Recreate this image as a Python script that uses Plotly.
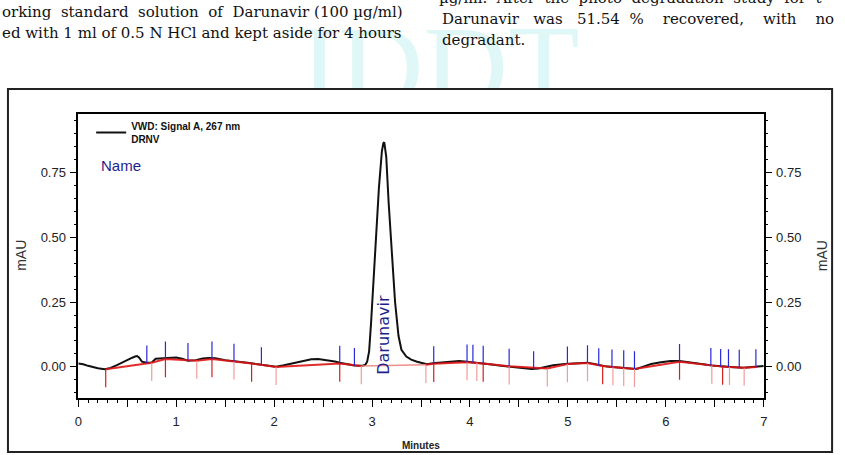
import plotly.graph_objects as go

W, H = 845, 455

# ---------------- data ----------------
# chromatogram signal (minutes, mAU)
sig_t = [0.00, 0.05, 0.10, 0.15, 0.20, 0.27, 0.33, 0.40, 0.47, 0.53, 0.58, 0.60, 0.62, 0.65,
         0.70, 0.75, 0.79, 0.85, 0.92, 1.00, 1.06, 1.12, 1.20, 1.27, 1.33, 1.40, 1.50, 1.60,
         1.68, 1.75, 1.87, 1.95, 2.02, 2.10, 2.18, 2.28, 2.38, 2.45, 2.55, 2.62, 2.67, 2.75,
         2.82, 2.90, 2.93, 2.95, 2.97, 2.99, 3.01, 3.04, 3.07, 3.10, 3.115, 3.125, 3.145,
         3.17, 3.20, 3.235, 3.27, 3.30, 3.35, 3.40, 3.46, 3.56, 3.62, 3.75, 3.89, 3.97, 4.03,
         4.10, 4.20, 4.30, 4.37, 4.45, 4.55, 4.63, 4.70, 4.77, 4.85, 4.97, 5.08, 5.20, 5.27,
         5.34, 5.40, 5.48, 5.57, 5.65, 5.70, 5.77, 5.85, 5.95, 6.05, 6.14, 6.23, 6.32, 6.40,
         6.47, 6.55, 6.66, 6.79, 6.92, 7.00]
sig_v = [0.013, 0.010, 0.004, -0.001, -0.005, -0.009, -0.004, 0.008, 0.022, 0.032, 0.040, 0.042,
         0.036, 0.020, 0.016, 0.017, 0.031, 0.033, 0.033, 0.036, 0.031, 0.024, 0.026, 0.032,
         0.034, 0.033, 0.026, 0.022, 0.020, 0.015, 0.008, 0.003, 0.001, 0.006, 0.013, 0.022,
         0.029, 0.030, 0.026, 0.021, 0.016, 0.009, 0.005, 0.004, 0.008, 0.020, 0.060, 0.170,
         0.300, 0.500, 0.690, 0.830, 0.862, 0.866, 0.810, 0.630, 0.440, 0.250, 0.120, 0.066,
         0.040, 0.028, 0.020, 0.010, 0.014, 0.019, 0.023, 0.020, 0.018, 0.015, 0.010, 0.005,
         0.002, -0.002, -0.006, -0.008, -0.006, -0.001, 0.006, 0.011, 0.014, 0.016, 0.011,
         0.005, 0.001, -0.001, -0.004, -0.008, -0.008, 0.001, 0.011, 0.018, 0.023, 0.023,
         0.019, 0.014, 0.009, 0.005, 0.002, 0.000, -0.003, 0.000, 0.003]

# integration baseline nodes before and after the main peak, with event mark type
bl1_t = [0.28, 0.75, 0.89, 1.21, 1.365, 1.59, 1.77, 2.02, 2.67, 2.89]
bl1_v = [-0.009, 0.016, 0.030, 0.024, 0.030, 0.021, 0.013, 0.000, 0.013, 0.003]
bl1_mark = ["red", "pink", "red", "pink", "red", "pink", "red", "pink", "red", "pink"]
bl2_t = [3.55, 3.63, 3.97, 4.07, 4.135, 4.40, 4.79, 4.995, 5.20, 5.355, 5.46, 5.57, 5.68,
         6.14, 6.47, 6.58, 6.65, 6.80, 6.93]
bl2_v = [0.008, 0.012, 0.018, 0.016, 0.013, 0.002, -0.006, 0.011, 0.015, 0.003, -0.001,
         -0.004, -0.008, 0.020, 0.005, 0.001, 0.000, -0.003, 0.000]
bl2_mark = ["pink", "red", "pink", "pink", "red", "pink", "pink", "pink", "pink", "red", "pink",
            "pink", "pink", "red", "pink", "red", "pink", "pink", ""]

# peak-start event marks (blue)
blue_t = [0.70, 0.89, 1.12, 1.365, 1.59, 1.87, 2.67, 2.82, 3.63, 3.97, 4.03, 4.135, 4.40, 4.65,
          4.995, 5.20, 5.315, 5.45, 5.57, 5.68, 6.14, 6.46, 6.56, 6.64, 6.75, 6.92]
blue_base = [0.014, 0.030, 0.024, 0.030, 0.021, 0.008, 0.013, 0.005, 0.012, 0.018, 0.017, 0.013,
             0.002, -0.008, 0.011, 0.015, 0.004, -0.001, -0.004, -0.008, 0.020, 0.005, 0.001,
             0.000, -0.002, 0.000]

peak_name = "Darunavir"
peak_t = 3.12

x_major = [0, 1, 2, 3, 4, 5, 6, 7]
y_ticks = [0.0, 0.25, 0.50, 0.75]
y_labels = ["0.00", "0.25", "0.50", "0.75"]
x_range = [0, 7]
y_range = [-0.12, 0.975]

# ---------------- style ----------------
SANS = "Liberation Sans, Arial, sans-serif"
SERIF = "DejaVu Serif, Liberation Serif, serif"
BLUE_TXT = "rgb(30,30,140)"
TICK_UP = 0.068
TICK_DOWN = 0.07


def segments(ts, y0s, y1s):
    xs, ys = [], []
    for t, a, b in zip(ts, y0s, y1s):
        xs += [t, t, None]
        ys += [a, b, None]
    return xs, ys


fig = go.Figure()

# watermark clipped to the strip above the chart frame
fig.add_trace(go.Scatter(x=[440], y=[77], xaxis="x3", yaxis="y3", mode="text", text=["IDDT"],
                         textfont=dict(family="Liberation Serif, serif", size=117, color="#e0f7f7"),
                         cliponaxis=True, showlegend=False, hoverinfo="skip"))

fig.add_trace(go.Scatter(x=sig_t, y=sig_v, mode="lines", name="VWD: Signal A, 267 nm<br>DRNV",
                         line=dict(color="#111111", width=2)))

# baselines
fig.add_trace(go.Scatter(x=bl1_t + [None] + bl2_t, y=bl1_v + [None] + bl2_v, mode="lines",
                         line=dict(color="rgba(225,20,20,0.9)", width=2),
                         showlegend=False, hoverinfo="skip"))
fig.add_trace(go.Scatter(x=[bl1_t[-1], bl2_t[0]], y=[bl1_v[-1], bl2_v[0]], mode="lines",
                         line=dict(color="rgba(240,130,130,0.9)", width=1.5),
                         showlegend=False, hoverinfo="skip"))

all_t = bl1_t + bl2_t
all_v = bl1_v + bl2_v
all_m = bl1_mark + bl2_mark
for kind, col in [("pink", "rgba(240,150,150,0.95)"), ("red", "rgb(215,30,30)")]:
    ts = [t for t, m in zip(all_t, all_m) if m == kind]
    vs = [v for v, m in zip(all_v, all_m) if m == kind]
    xs, ys = segments(ts, vs, [v - TICK_DOWN for v in vs])
    fig.add_trace(go.Scatter(x=xs, y=ys, mode="lines", line=dict(color=col, width=1.2),
                             showlegend=False, hoverinfo="skip"))

xs, ys = segments(blue_t, blue_base, [b + TICK_UP for b in blue_base])
fig.add_trace(go.Scatter(x=xs, y=ys, mode="lines", line=dict(color="rgb(40,40,220)", width=1.2),
                         showlegend=False, hoverinfo="skip"))

# invisible trace to realise the right-hand axis
fig.add_trace(go.Scatter(x=sig_t[:1], y=sig_v[:1], yaxis="y2", mode="markers",
                         marker=dict(opacity=0), showlegend=False, hoverinfo="skip"))

x_tickvals, x_ticktext = [], []
for i, v in enumerate(x_major):
    x_tickvals.append(v)
    x_ticktext.append(str(v))
    if i < len(x_major) - 1:
        x_tickvals.append(v + 0.5)
        x_ticktext.append("")

tickfont = dict(family=SANS, size=13, color="#222")
common_y = dict(range=y_range, tickmode="array", tickvals=y_ticks, ticktext=y_labels,
                ticks="outside", ticklen=7, tickwidth=1, tickcolor="black",
                showline=True, linecolor="black", linewidth=1.5, showgrid=False, zeroline=False,
                tickfont=tickfont, ticklabelstandoff=1,
                minor=dict(tickmode="linear", tick0=0, dtick=0.05, ticks="outside", ticklen=3,
                           tickcolor="black", showgrid=False))

fig.update_layout(
    width=W, height=H, margin=dict(l=0, r=0, t=0, b=0),
    paper_bgcolor="white", plot_bgcolor="white",
    xaxis=dict(domain=[75 / W, 767 / W], range=x_range, tickmode="array", tickvals=x_tickvals,
               ticktext=x_ticktext, ticks="outside", ticklen=7, tickwidth=1, tickcolor="black",
               showline=True, linecolor="black", linewidth=1.5, mirror=True, showgrid=False,
               zeroline=False, tickfont=tickfont, ticklabelstandoff=4, anchor="y",
               minor=dict(tickmode="linear", tick0=0, dtick=0.1, ticks="outside", ticklen=3,
                          tickcolor="black", showgrid=False)),
    yaxis=dict(domain=[1 - 398 / H, 1 - 114 / H], anchor="x", side="left", **common_y),
    yaxis2=dict(overlaying="y", anchor="x", side="right", **common_y),
    xaxis3=dict(domain=[0, 1], range=[0, W], visible=False, anchor="y3"),
    yaxis3=dict(domain=[1 - 88 / H, 1], range=[88, 0], visible=False, anchor="x3"),
    legend=dict(x=88 / W, y=1 - 113 / H, xanchor="left", yanchor="top",
                font=dict(family=SANS, size=10, color="#111", weight="bold"),
                bgcolor="rgba(0,0,0,0)", borderwidth=0),
    showlegend=True,
)

fig.add_shape(type="rect", xref="paper", yref="paper", x0=4 / W, x1=836 / W,
              y0=1 - 452 / H, y1=1 - 89 / H, line=dict(color="#222", width=2))

ann = []
ann.append(dict(x=96 / W, y=1 - 165 / H, xref="paper", yref="paper", text="Name",
                showarrow=False, xanchor="left", yanchor="middle",
                font=dict(family=SANS, size=15, color=BLUE_TXT)))
ann.append(dict(x=peak_t, y=0.123, xref="x", yref="y", text=peak_name, textangle=-90,
                showarrow=False, font=dict(family="DejaVu Sans, sans-serif", size=16,
                                           color=BLUE_TXT)))
ann.append(dict(x=17 / W, y=1 - 255 / H, xref="paper", yref="paper", text="mAU", textangle=-90,
                showarrow=False, xanchor="center", yanchor="middle",
                font=dict(family=SANS, size=14, color="#333")))
ann.append(dict(x=826 / W, y=1 - 256 / H, xref="paper", yref="paper", text="mAU", textangle=-90,
                showarrow=False, xanchor="center", yanchor="middle",
                font=dict(family=SANS, size=14, color="#333")))
ann.append(dict(x=421 / W, y=1 - 445 / H, xref="paper", yref="paper", text="Minutes",
                showarrow=False, xanchor="center", yanchor="middle",
                font=dict(family=SANS, size=10, color="#222", weight="bold")))

para = [
    ("orking  standard  solution  of  Darunavir (100 µg/ml)", -4, 12),
    ("ed with 1 ml of 0.5 N HCl and kept aside for 4 hours", -4, 33),
    ("µg/ml.  After  the  photo  degradation  study  for  t", 437, -2),
    ("Darunavir   was   51.54  %    recovered,    with    no", 440, 19),
    ("degradant.", 440, 40),
]
for txt, px, py in para:
    ann.append(dict(x=px / W, y=1 - py / H, xref="paper", yref="paper", text=txt,
                    showarrow=False, xanchor="left", yanchor="middle",
                    font=dict(family=SERIF, size=15, color="#111")))

fig.update_layout(annotations=ann)

fig.write_html("out.html")
